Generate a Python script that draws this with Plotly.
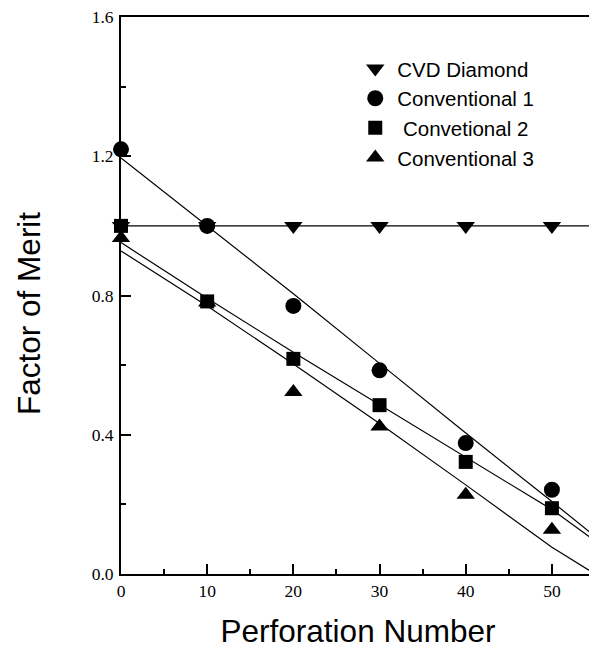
import plotly.graph_objects as go

x_pts = [0, 10, 20, 30, 40, 50]
cvd = [1.0, 1.0, 1.0, 1.0, 1.0, 1.0]
conv1 = [1.22, 1.0, 0.77, 0.585, 0.376, 0.242]
conv2 = [1.0, 0.783, 0.618, 0.485, 0.322, 0.189]
conv3 = [0.965, 0.78, 0.523, 0.424, 0.228, 0.127]

x_fit = [0, 10, 20, 30, 40, 50, 55]
cvd_fit = [1.0, 1.0, 1.0, 1.0, 1.0, 1.0, 1.0]
conv1_fit = [1.195, 1.0, 0.805, 0.605, 0.405, 0.208, 0.108]
conv2_fit = [0.952, 0.792, 0.637, 0.487, 0.337, 0.185, 0.095]
conv3_fit = [0.928, 0.77, 0.603, 0.432, 0.256, 0.077, 0.0]

names = ["CVD Diamond", "Conventional 1", " Convetional 2", "Conventional 3"]
symbols = ["triangle-down", "circle", "square", "triangle-up"]
sizes = [16, 16, 14, 16]

fig = go.Figure()
for fy in [cvd_fit, conv1_fit, conv2_fit, conv3_fit]:
    fig.add_trace(go.Scatter(x=x_fit, y=fy, mode="lines", line=dict(color="black", width=1.2),
                             showlegend=False, hoverinfo="skip"))
for i, ys in enumerate([cvd, conv1, conv2, conv3]):
    fig.add_trace(go.Scatter(x=x_pts, y=ys, mode="markers", name=names[i], legendgroup=str(i),
                             marker=dict(symbol=symbols[i], size=sizes[i], color="black",
                                         line=dict(width=0)), cliponaxis=False))

fig.add_annotation(text="Factor of Merit", textangle=-90, xref="paper", yref="paper",
                   x=-0.194, y=0.467, xanchor="center", yanchor="middle", showarrow=False,
                   font=dict(family="Liberation Sans, Arial", size=31.5, color="black"))

fig.update_layout(
    width=589, height=641,
    margin=dict(l=113, r=2, t=9, b=75),
    paper_bgcolor="white", plot_bgcolor="white",
    showlegend=True,
    legend=dict(x=0.49, y=0.943, xanchor="left", yanchor="top", bgcolor="rgba(0,0,0,0)",
                font=dict(family="Liberation Sans, Arial", size=20.5, color="black"),
                tracegroupgap=0, itemsizing="trace", itemwidth=34),
    xaxis=dict(range=[0, 55], tickvals=[0, 10, 20, 30, 40, 50], ticks="inside", ticklen=10,
               tickwidth=1.5, tickcolor="black", showgrid=False, zeroline=False, automargin=False,
               ticklabeloverflow="allow",
               showline=True, linecolor="black", linewidth=2, mirror=True,
               minor=dict(tickvals=[5, 15, 25, 35, 45], ticks="inside", ticklen=5, tickwidth=1.5, tickcolor="black"),
               tickfont=dict(family="Liberation Serif, Times New Roman", size=17.5, color="black"),
               title=dict(text="Perforation Number", standoff=20,
                          font=dict(family="Liberation Sans, Arial", size=31.5, color="black"))),
    yaxis=dict(range=[0, 1.6], tickvals=[0, 0.4, 0.8, 1.2, 1.6], ticktext=["0.0", "0.4", "0.8", "1.2", "1.6"],
               ticks="inside", ticklen=10, tickwidth=1.5, tickcolor="black", showgrid=False, zeroline=False,
               automargin=False, ticklabeloverflow="allow", ticklabelstandoff=2,
               showline=True, linecolor="black", linewidth=2, mirror=True,
               minor=dict(tickvals=[0.2, 0.6, 1.0, 1.4], ticks="inside", ticklen=5, tickwidth=1.5, tickcolor="black"),
               tickfont=dict(family="Liberation Serif, Times New Roman", size=17.5, color="black")),
)

fig.write_html("out.html")
